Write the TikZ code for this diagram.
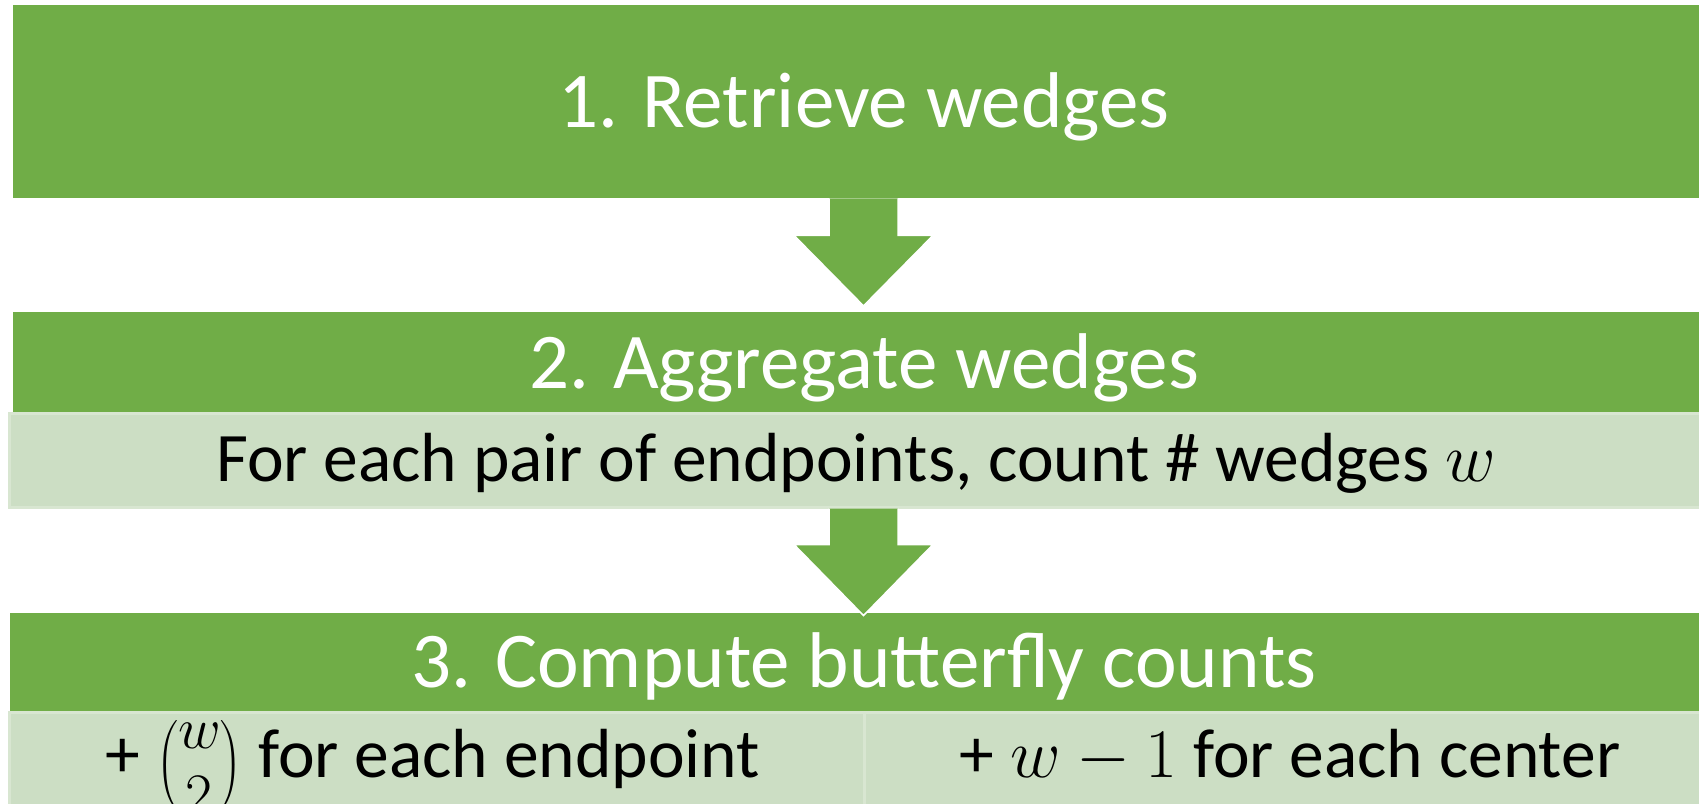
\RequirePackage{fix-cm}
\documentclass[tikz,border=0pt]{standalone}
\usepackage{amsmath}
\usepackage{fontspec}
\setmainfont{Carlito}
\usetikzlibrary{calc}
\definecolor{gr}{RGB}{112,173,71}
\definecolor{lgr}{RGB}{204,222,196}
\definecolor{lgrb}{RGB}{216,230,209}
\begin{document}
\begin{tikzpicture}[x=1pt,y=-1pt,
  greenbox/.style={fill=gr, draw=none, inner sep=0pt, anchor=north west},
  lightbox/.style={fill=lgr, draw=lgrb, line width=2.5pt, inner sep=0pt, anchor=north west},
  headtxt/.style={text=white, inner sep=0pt, anchor=base, font=\fontsize{79}{95}\selectfont},
  bodytxt/.style={text=black, inner sep=0pt, anchor=base, font=\fontsize{69.5}{83}\selectfont},
  blockarrow/.style={fill=gr, draw=white, line width=1.5pt, line join=miter}]
\useasboundingbox (0,0) rectangle (1699,803);
% step 1
\node[greenbox, minimum width=1690pt, minimum height=193pt] (b1) at (13,5) {};
\node[headtxt] (t1) at (864,127) {1. Retrieve wedges};
% step 2
\node[greenbox, minimum width=1690pt, minimum height=100pt] (b2) at (13,312) {};
\node[headtxt] (t2) at (864,388) {2. Aggregate wedges};
\node[lightbox, minimum width=1700pt, minimum height=94pt] (l2) at (8,412) {};
\node[bodytxt] (d2) at (856,481) {For each pair of endpoints, count \# wedges $w$};
% step 3
\node[greenbox, minimum width=1692pt, minimum height=98pt] (b3) at (10,613) {};
\node[headtxt] (t3) at (864,687) {3. Compute butterfly counts};
\node[lightbox, minimum width=855pt, minimum height=100pt] (l3a) at (8,711) {};
\node[lightbox, minimum width=845pt, minimum height=100pt] (l3b) at (863,711) {};
\node[bodytxt] (d3a) at (433,777) {+ {\fontsize{84}{96}\selectfont\raisebox{-9pt}{$\binom{w}{2}$}} for each endpoint};
\node[bodytxt] (d3b) at (1290,777) {+ $w-1$ for each center};
% block arrows
\filldraw[blockarrow] ($(b1.south west)+(816,0)$) -- ++(0,37) -- ++(-35,0)
  -- ++(69.5,70.5) -- ++(69.5,-70.5) -- ++(-35,0) -- ++(0,-37);
\filldraw[blockarrow] ($(l2.south west)+(821,0)$) -- ++(0,36) -- ++(-35,0)
  -- ++(69.5,71) -- ++(69.5,-71) -- ++(-35,0) -- ++(0,-36);
\end{tikzpicture}
\end{document}
